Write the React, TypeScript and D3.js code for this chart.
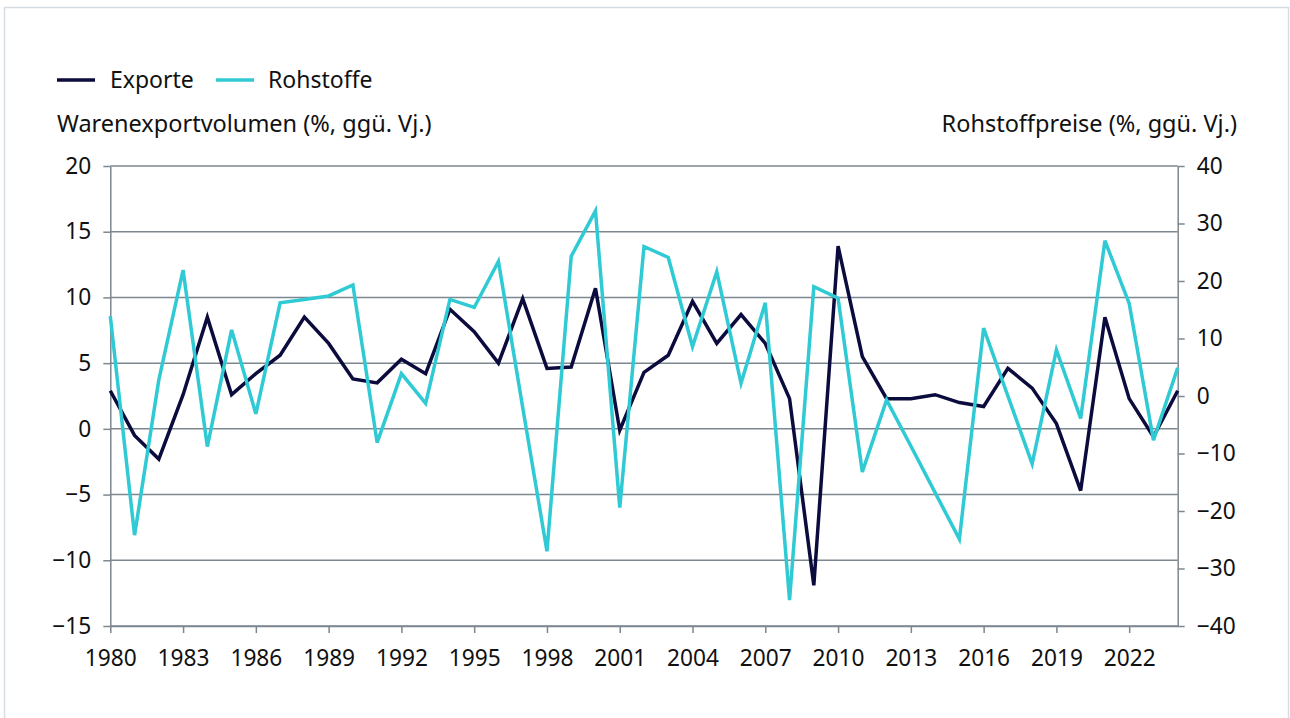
import React, { useEffect, useRef } from "react";
import * as d3 from "d3";

const years: number[] = d3.range(1980, 2025);

const exportsVol: number[] = [
  2.9, -0.5, -2.3, 2.6, 8.5, 2.6, 4.2, 5.6, 8.5, 6.5,
  3.8, 3.5, 5.3, 4.2, 9.1, 7.4, 5.0, 9.9, 4.6, 4.7,
  10.7, -0.1, 4.3, 5.6, 9.7, 6.5, 8.7, 6.5, 2.3, -11.9,
  13.9, 5.5, 2.3, 2.3, 2.6, 2.0, 1.7, 4.6, 3.1, 0.4,
  -4.7, 8.5, 2.3, -0.6, 2.9,
];

const commodities: number[] = [
  13.9, -24.2, 2.8, 21.9, -8.8, 11.5, -3.1, 16.2, 16.8, 17.4,
  19.3, -8.1, 3.9, -1.3, 16.8, 15.4, 23.4, -2.0, -27.0, 24.3,
  32.2, -19.4, 26.0, 24.1, 8.6, 21.6, 2.2, 16.2, -35.5, 19.0,
  17.0, -13.2, -0.7, -8.7, -16.8, -24.9, 11.8, 0.0, -11.8, 8.0,
  -3.9, 27.0, 16.1, -7.7, 4.9,
];

const leftTicks: number[] = [-15, -10, -5, 0, 5, 10, 15, 20];
const rightTicks: number[] = [-40, -30, -20, -10, 0, 10, 20, 30, 40];
const xTicks: number[] = d3.range(1980, 2023, 3);

const seriesNames = ["Exporte", "Rohstoffe"];
const leftTitle = "Warenexportvolumen (%, ggü. Vj.)";
const rightTitle = "Rohstoffpreise (%, ggü. Vj.)";

const NAVY = "#0b0b3d";
const CYAN = "#2fcad4";
const GRID = "#7d8790";
const FONT = "'Noto Sans', sans-serif";
const FS = 22.7;
const FS_TITLE = 23.5;
const FS_LEG = 23;

export default function App() {
  const ref = useRef<SVGSVGElement>(null);

  useEffect(() => {
    const svg = d3.select(ref.current);
    svg.selectAll("*").remove();
    const W = 1290, H = 718;
    const x0 = 110.3, x1 = 1177.7, yTop = 166, yBot = 626;

    const x = d3.scaleLinear().domain([1980, 2024]).range([x0, x1]);
    const yL = d3.scaleLinear().domain([-15, 20]).range([yBot, yTop]);
    const yR = d3.scaleLinear().domain([-40, 40]).range([yBot, yTop]);

    svg.append("rect").attr("x", 0).attr("y", 0).attr("width", W).attr("height", H).attr("fill", "#fff");
    svg.append("rect")
      .attr("x", 4.5).attr("y", 7.5).attr("width", 1284).attr("height", 730)
      .attr("fill", "none").attr("stroke", "#d6dde2").attr("stroke-width", 1.5);

    // gridlines
    svg.append("g").selectAll("line").data(leftTicks).join("line")
      .attr("x1", x0).attr("x2", x1)
      .attr("y1", (d) => yL(d)).attr("y2", (d) => yL(d))
      .attr("stroke", GRID).attr("stroke-width", 1.5);

    const styleAxis = (g: any) => {
      g.selectAll("path").attr("stroke", GRID).attr("stroke-width", 1.5);
      g.selectAll("line").attr("stroke", GRID).attr("stroke-width", 1.5);
      g.selectAll("text").attr("fill", "#111").attr("font-size", FS).attr("font-family", FONT);
      g.attr("font-family", FONT).attr("font-size", FS);
    };

    const gl = svg.append("g").attr("transform", `translate(${x0},0)`)
      .call(d3.axisLeft(yL).tickValues(leftTicks).tickSize(7).tickSizeOuter(0).tickPadding(12).tickFormat(d3.format("d")));
    styleAxis(gl);

    const gr = svg.append("g").attr("transform", `translate(${x1},0)`)
      .call(d3.axisRight(yR).tickValues(rightTicks).tickSize(7).tickSizeOuter(0).tickPadding(12).tickFormat(d3.format("d")));
    styleAxis(gr);

    const gb = svg.append("g").attr("transform", `translate(0,${yBot})`)
      .call(d3.axisBottom(x).tickValues(xTicks).tickSize(7).tickSizeOuter(0).tickPadding(17).tickFormat((d: any) => String(d)));
    styleAxis(gb);

    const lineL = d3.line<number>().x((_, i) => x(years[i])).y((d) => yL(d));
    const lineR = d3.line<number>().x((_, i) => x(years[i])).y((d) => yR(d));

    svg.append("path").datum(exportsVol).attr("d", lineL)
      .attr("fill", "none").attr("stroke", NAVY).attr("stroke-width", 3.5);
    svg.append("path").datum(commodities).attr("d", lineR)
      .attr("fill", "none").attr("stroke", CYAN).attr("stroke-width", 3.5);

    // legend
    const legend = [
      { name: seriesNames[0], color: NAVY, lx: 57, tx: 110 },
      { name: seriesNames[1], color: CYAN, lx: 216, tx: 268 },
    ];
    legend.forEach((l) => {
      svg.append("line").attr("x1", l.lx).attr("x2", l.lx + 38).attr("y1", 80).attr("y2", 80)
        .attr("stroke", l.color).attr("stroke-width", 3.5);
      svg.append("text").attr("x", l.tx).attr("y", 87.5).text(l.name)
        .attr("font-family", FONT).attr("font-size", FS_LEG).attr("fill", "#111");
    });

    svg.append("text").attr("x", 57).attr("y", 131.5).text(leftTitle)
      .attr("font-family", FONT).attr("font-size", FS_TITLE).attr("fill", "#111");
    svg.append("text").attr("x", 1237).attr("y", 131.5).attr("text-anchor", "end").text(rightTitle)
      .attr("font-family", FONT).attr("font-size", FS_TITLE).attr("fill", "#111");
  }, []);

  return (
    <svg ref={ref} width={1290} height={718}
      style={{ position: "absolute", left: 0, top: 0, display: "block" }} />
  );
}
